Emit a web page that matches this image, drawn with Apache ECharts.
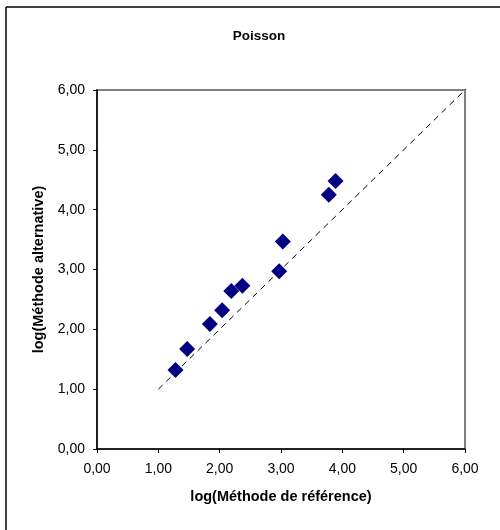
<!DOCTYPE html>
<html>
<head>
<meta charset="utf-8">
<script src="https://cdn.jsdelivr.net/npm/echarts@6/dist/echarts.min.js"></script>
<style>
html,body{margin:0;padding:0;background:#fff;}
#c{width:500px;height:530px;}
</style>
</head>
<body>
<div id="c"></div>
<script>
const titleText = 'Poisson';
const xName = 'log(Méthode de référence)';
const yName = 'log(Méthode alternative)';
const refX = [1.28, 1.47, 1.84, 2.04, 2.19, 2.37, 2.97, 3.03, 3.78, 3.89];
const altY = [1.32, 1.67, 2.09, 2.32, 2.64, 2.73, 2.97, 3.47, 4.25, 4.48];
const identityLine = [[1, 1], [6.05, 6.05]];
const axisMin = 0, axisMax = 6, axisStep = 1;

const fmt = v => v.toFixed(2).replace('.', ',');
const font = 'Liberation Sans, Arial, sans-serif';

const chart = echarts.init(document.getElementById('c'), null, {renderer: 'canvas'});
chart.setOption({
  animation: false,
  backgroundColor: '#fff',
  title: {
    text: titleText, left: 254, top: 24, textAlign: 'center',
    textStyle: {fontFamily: font, fontSize: 13.5, fontWeight: 'bold', color: '#000'}
  },
  grid: {
    left: 97, right: 35, top: 90, bottom: 81,
    show: true, borderColor: '#808080', borderWidth: 2, backgroundColor: '#fff'
  },
  graphic: [
    {type: 'line', shape: {x1: 6, y1: 7, x2: 500, y2: 7}, style: {stroke: '#000', lineWidth: 1.5}},
    {type: 'line', shape: {x1: 6, y1: 7, x2: 6, y2: 530}, style: {stroke: '#000', lineWidth: 1.5}}
  ],
  xAxis: {
    type: 'value', min: axisMin, max: axisMax, interval: axisStep,
    name: xName, nameLocation: 'middle', nameGap: 40,
    nameTextStyle: {fontFamily: font, fontSize: 14.5, fontWeight: 'bold', color: '#000'},
    axisLine: {show: true, lineStyle: {color: '#000', width: 1.5}},
    axisTick: {show: true, length: 4, lineStyle: {color: '#000'}},
    axisLabel: {formatter: fmt, margin: 13, fontFamily: font, fontSize: 14, color: '#000'},
    splitLine: {show: false}
  },
  yAxis: {
    type: 'value', min: axisMin, max: axisMax, interval: axisStep,
    name: yName, nameLocation: 'middle', nameGap: 50,
    nameTextStyle: {fontFamily: font, fontSize: 14.5, fontWeight: 'bold', color: '#000'},
    axisLine: {show: true, lineStyle: {color: '#000', width: 1.5}},
    axisTick: {show: true, length: 4, lineStyle: {color: '#000'}},
    axisLabel: {formatter: fmt, margin: 12, fontFamily: font, fontSize: 14, color: '#000'},
    splitLine: {show: false}
  },
  series: [
    {
      type: 'line', data: identityLine, symbol: 'none', clip: false, z: 1,
      lineStyle: {color: '#000', width: 1, type: [6, 5]}
    },
    {
      type: 'scatter', symbol: 'diamond', symbolSize: 16, z: 3,
      data: refX.map((x, i) => [x, altY[i]]),
      itemStyle: {color: '#000080', opacity: 1}
    }
  ]
});
</script>
</body>
</html>
